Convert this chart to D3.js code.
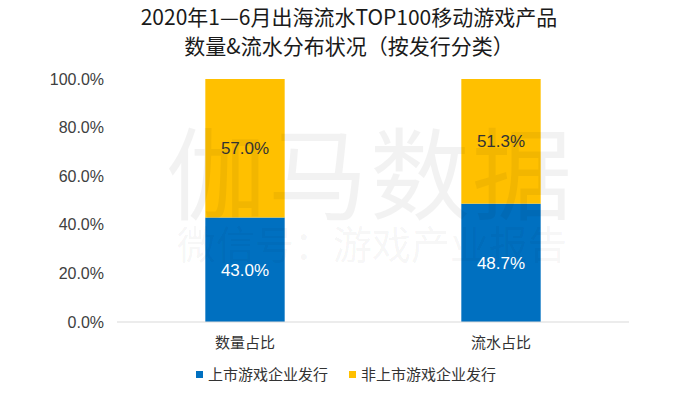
<!DOCTYPE html>
<html>
<head>
<meta charset="utf-8">
<script src="https://cdn.jsdelivr.net/npm/d3@7"></script>
<style>
  body { margin: 0; background: #fff; }
  text { font-family: "Liberation Sans", Arial, "Noto Sans CJK SC", sans-serif; }
  .cjk { font-family: "Noto Sans CJK SC", sans-serif; }
</style>
</head>
<body>
<div id="chart"></div>
<script>
const categories = ["数量占比", "流水占比"];
const seriesNames = ["上市游戏企业发行", "非上市游戏企业发行"];
const listed = [43.0, 48.7];
const unlisted = [57.0, 51.3];
const yTicks = [0, 20, 40, 60, 80, 100];
const colors = ["#0070C0", "#FFC000"];

const width = 700, height = 394;
const svg = d3.select("#chart").append("svg")
    .attr("width", width)
    .attr("height", height);

const x = d3.scaleBand()
    .domain(categories)
    .range([117, 629])
    .paddingInner(0.69)
    .paddingOuter(0.345);

const y = d3.scaleLinear()
    .domain([0, 100])
    .range([322, 79]);

// watermark, drawn behind the text
const wm = svg.append("g").attr("class", "watermark");

// title
const title = svg.append("text")
    .attr("class", "cjk")
    .attr("text-anchor", "middle")
    .attr("fill", "#1a1a1a")
    .style("font-size", "21px");
title.append("tspan").attr("x", 349).attr("y", 25).text("2020年1—6月出海流水TOP100移动游戏产品");
title.append("tspan").attr("x", 349).attr("y", 54).text("数量&流水分布状况（按发行分类）");

// y axis labels (no line)
svg.append("g").selectAll("text")
    .data(yTicks)
    .join("text")
    .attr("x", 104)
    .attr("y", d => y(d))
    .attr("dy", "0.35em")
    .attr("text-anchor", "end")
    .attr("fill", "#404040")
    .style("font-size", "16px")
    .text(d => d.toFixed(1) + "%");

// stacked bars
const rows = categories.map((c, i) => ({ cat: c, listed: listed[i], unlisted: unlisted[i] }));
const stack = d3.stack().keys(["listed", "unlisted"])(rows);

const layers = svg.append("g").selectAll("g")
    .data(stack)
    .join("g")
    .attr("fill", (d, i) => colors[i]);

layers.selectAll("rect")
    .data(d => d)
    .join("rect")
    .attr("x", d => x(d.data.cat))
    .attr("width", x.bandwidth())
    .attr("y", d => y(d[1]))
    .attr("height", d => y(d[0]) - y(d[1]));

// watermark over bars, very faint
wm.raise();
wm.append("text")
    .attr("class", "cjk")
    .attr("x", 370).attr("y", 212)
    .attr("text-anchor", "middle")
    .attr("fill", "#000")
    .attr("fill-opacity", 0.05)
    .style("font-size", "100px")
    .style("letter-spacing", "2px")
    .text("伽马数据");
wm.append("text")
    .attr("class", "cjk")
    .attr("x", 372).attr("y", 259)
    .attr("text-anchor", "middle")
    .attr("fill", "#000")
    .attr("fill-opacity", 0.05)
    .style("font-size", "39px")
    .text("微信号：游戏产业报告");

layers.raise();
wm.raise();

const labels = svg.append("g");
stack.forEach(layer => {
    labels.selectAll("text.l-" + layer.key)
        .data(layer)
        .join("text")
        .attr("class", "l-" + layer.key)
        .attr("x", d => x(d.data.cat) + x.bandwidth() / 2)
        .attr("y", d => y((d[0] + d[1]) / 2))
        .attr("dy", "0.35em")
        .attr("text-anchor", "middle")
        .attr("fill", layer.key === "listed" ? "#fff" : "#333")
        .style("font-size", "17px")
        .text(d => (d[1] - d[0]).toFixed(1) + "%");
});

// baseline
svg.append("line")
    .attr("x1", 117).attr("x2", 629)
    .attr("y1", y(0)).attr("y2", y(0))
    .attr("stroke", "#d9d9d9")
    .attr("stroke-width", 1);

// category labels
svg.append("g").selectAll("text")
    .data(categories)
    .join("text")
    .attr("class", "cjk")
    .attr("x", d => x(d) + x.bandwidth() / 2)
    .attr("y", 343)
    .attr("dy", "0.35em")
    .attr("text-anchor", "middle")
    .attr("fill", "#333")
    .style("font-size", "15px")
    .text(d => d);

// legend
const legendX = [196, 349];
const legend = svg.append("g").selectAll("g")
    .data(seriesNames)
    .join("g")
    .attr("transform", (d, i) => "translate(" + legendX[i] + ",375)");
legend.append("rect")
    .attr("x", 0).attr("y", -4)
    .attr("width", 7).attr("height", 7)
    .attr("fill", (d, i) => colors[i]);
legend.append("text")
    .attr("class", "cjk")
    .attr("x", 12)
    .attr("dy", "0.35em")
    .attr("fill", "#333")
    .style("font-size", "15px")
    .text(d => d);
</script>
</body>
</html>
